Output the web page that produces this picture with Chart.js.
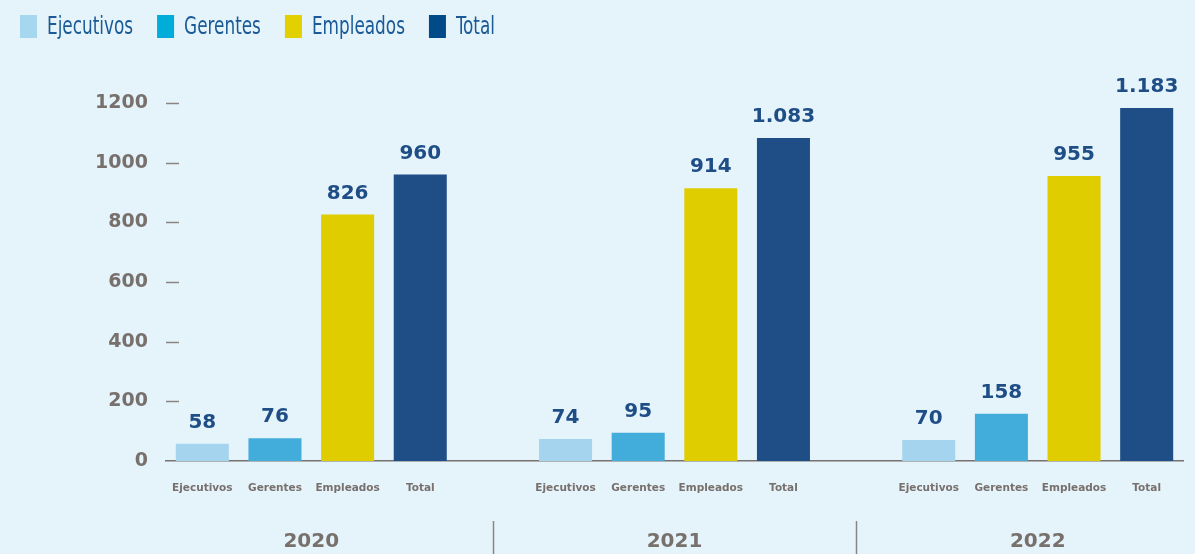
<!DOCTYPE html>
<html>
<head>
<meta charset="utf-8">
<script src="https://cdn.jsdelivr.net/npm/chart.js@4.4.1/dist/chart.umd.min.js"></script>
<style>
html,body{margin:0;padding:0;background:#e5f3fb;}
canvas{display:block;}
</style>
</head>
<body>
<canvas id="chart" width="1195" height="554"></canvas>
<script>
const years = ["2020", "2021", "2022"];
const categories = ["Ejecutivos", "Gerentes", "Empleados", "Total"];
const ejecutivos = [58, 74, 70];
const gerentes = [76, 95, 158];
const empleados = [826, 914, 955];
const total = [960, 1083, 1183];
const yTicks = [0, 200, 400, 600, 800, 1000, 1200];

const barColors = ["#a5d5ee", "#42acdb", "#e0cd00", "#1f4e87"];
const legendColors = ["#a5d7ee", "#00acd9", "#e2d000", "#004b87"];
const grayText = "#77706c";
const valueColor = "#1f4e87";

// 4 bars per year, one empty slot between years
const slotsPerYear = categories.length + 1;
const slotCount = years.length * slotsPerYear - 1;

const labels = [];
for (let i = 0; i < slotCount; i++) {
    const c = i % slotsPerYear;
    labels.push(c < categories.length ? categories[c] : "");
}

const series = [ejecutivos, gerentes, empleados, total];
const datasets = series.map((vals, c) => {
    const data = new Array(slotCount).fill(null);
    vals.forEach((v, y) => { data[y * slotsPerYear + c] = v; });
    return {
        label: categories[c],
        data: data,
        backgroundColor: barColors[c],
        barPercentage: 0.73,
        categoryPercentage: 1
    };
});

function fmt(v){
    return String(v).replace(/\B(?=(\d{3})+(?!\d))/g, ".");
}

// legend drawn in the top padding, condensed like the original
const legendPlugin = {
    id: "topLegend",
    afterDraw(chart){
        const ctx = chart.ctx;
        const squeeze = 0.75;
        ctx.save();
        ctx.font = "25px 'DejaVu Sans Condensed', 'DejaVu Sans', sans-serif";
        ctx.textBaseline = "middle";
        let x = 20;
        categories.forEach((name, i) => {
            ctx.fillStyle = legendColors[i];
            ctx.fillRect(x, 15, 17, 23);
            const tx = x + 27;
            const w = ctx.measureText(name).width * squeeze;
            ctx.save();
            ctx.translate(tx, 27);
            ctx.scale(squeeze, 1);
            ctx.fillStyle = "#1a5a96";
            ctx.fillText(name, 0, 0);
            ctx.restore();
            x = tx + w + 24;
        });
        ctx.restore();
    }
};

const valueLabels = {
    id: "valueLabels",
    afterDatasetsDraw(chart){
        const ctx = chart.ctx;
        ctx.save();
        ctx.font = "bold 20px 'DejaVu Sans', sans-serif";
        ctx.fillStyle = valueColor;
        ctx.textAlign = "center";
        ctx.textBaseline = "alphabetic";
        chart.data.datasets.forEach((ds, d) => {
            chart.getDatasetMeta(d).data.forEach((el, i) => {
                const v = ds.data[i];
                if (v == null) return;
                ctx.fillText(fmt(v), el.x, el.y - 16);
            });
        });
        ctx.restore();
    }
};

const axisExtras = {
    id: "axisExtras",
    afterDraw(chart){
        const ctx = chart.ctx;
        const x = chart.scales.x;
        const y = chart.scales.y;
        const area = chart.chartArea;
        ctx.save();
        // short y tick marks
        ctx.strokeStyle = "#8a8582";
        ctx.lineWidth = 1.5;
        yTicks.forEach(t => {
            if (t === 0) return;
            const py = Math.round(y.getPixelForValue(t)) + 0.5;
            ctx.beginPath();
            ctx.moveTo(area.left, py);
            ctx.lineTo(area.left + 13, py);
            ctx.stroke();
        });
        // year labels and separators
        ctx.font = "bold 20px 'DejaVu Sans', sans-serif";
        ctx.fillStyle = grayText;
        ctx.textAlign = "center";
        ctx.textBaseline = "middle";
        years.forEach((yr, i) => {
            const a = x.getPixelForValue(i * slotsPerYear);
            const b = x.getPixelForValue(i * slotsPerYear + categories.length - 1);
            ctx.fillText(yr, (a + b) / 2, 542);
            if (i < years.length - 1) {
                const sx = Math.round(x.getPixelForValue(i * slotsPerYear + categories.length)) + 0.5;
                ctx.beginPath();
                ctx.moveTo(sx, 521);
                ctx.lineTo(sx, 554);
                ctx.stroke();
            }
        });
        ctx.restore();
    }
};

new Chart(document.getElementById("chart"), {
    type: "bar",
    data: { labels: labels, datasets: datasets },
    options: {
        responsive: false,
        animation: false,
        layout: { padding: { top: 103, right: 12, bottom: 0, left: 0 } },
        plugins: {
            legend: { display: false },
            tooltip: { enabled: false }
        },
        scales: {
            x: {
                stacked: true,
                grid: { display: false, drawTicks: false },
                border: { display: true, color: "#77726f", width: 1.5 },
                ticks: {
                    autoSkip: false,
                    maxRotation: 0,
                    padding: 21,
                    color: grayText,
                    font: { family: "'DejaVu Sans', sans-serif", size: 10.5, weight: "bold" }
                },
                afterFit(s){ s.height = 93; }
            },
            y: {
                stacked: true,
                min: 0,
                max: 1200,
                grid: { display: false, drawTicks: false },
                border: { display: false },
                afterBuildTicks(s){ s.ticks = yTicks.map(v => ({ value: v })); },
                ticks: {
                    padding: 18,
                    color: grayText,
                    font: { family: "'DejaVu Sans', sans-serif", size: 19, weight: "bold" },
                    callback: v => String(v)
                },
                afterFit(s){ s.width = 166; }
            }
        }
    },
    plugins: [legendPlugin, valueLabels, axisExtras]
});
</script>
</body>
</html>
